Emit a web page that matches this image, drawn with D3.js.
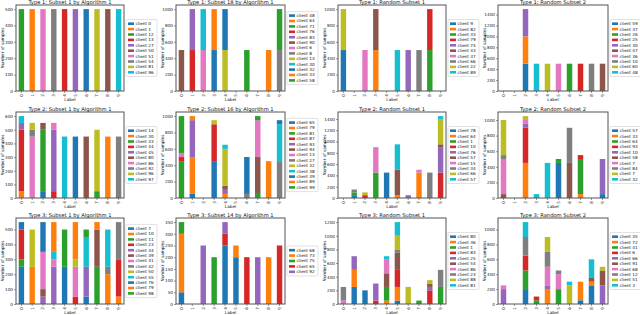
<!DOCTYPE html>
<html>
<head>
<meta charset="utf-8">
<script src="https://cdn.jsdelivr.net/npm/d3@7"></script>
<style>
  body { margin: 0; background: #fff; }
  text { font-family: "DejaVu Sans", sans-serif; }
</style>
</head>
<body>
<svg id="chart" width="640" height="315"></svg>
<script>
const labels = ["0", "1", "2", "3", "4", "5", "6", "7", "8", "9"];
const tab10 = ["#1f77b4", "#ff7f0e", "#2ca02c", "#d62728", "#9467bd", "#8c564b", "#e377c2", "#7f7f7f", "#bcbd22", "#17becf"];

// Type 1: Subset 1 by Algorithm 1
const t1a1Clients = [0, 1, 12, 13, 27, 50, 51, 54, 81, 96];
const t1a1Values = [
  [0, 0, 0, 0, 0, 0, 500, 0, 0, 0],
  [0, 500, 0, 0, 0, 0, 0, 0, 0, 0],
  [500, 0, 0, 0, 0, 0, 0, 0, 0, 0],
  [0, 0, 0, 0, 500, 0, 0, 0, 0, 0],
  [0, 0, 0, 0, 0, 500, 0, 0, 0, 0],
  [0, 0, 0, 0, 0, 0, 0, 0, 500, 0],
  [0, 0, 500, 0, 0, 0, 0, 0, 0, 0],
  [0, 0, 0, 500, 0, 0, 0, 0, 0, 0],
  [0, 0, 0, 0, 0, 0, 0, 500, 0, 0],
  [0, 0, 0, 0, 0, 0, 0, 0, 0, 500]
];

// Type 1: Subset 18 by Algorithm 1
const t1a18Clients = [48, 64, 71, 76, 83, 90, 6, 8, 13, 30, 32, 33, 58];
const t1a18Values = [
  [0, 0, 0, 500, 0, 0, 0, 0, 0, 0],
  [0, 0, 0, 500, 0, 0, 0, 0, 0, 0],
  [0, 0, 0, 0, 0, 0, 500, 0, 0, 0],
  [0, 500, 0, 0, 0, 0, 0, 0, 0, 0],
  [0, 500, 0, 0, 0, 0, 0, 0, 0, 0],
  [500, 0, 0, 0, 0, 0, 0, 0, 0, 0],
  [0, 0, 500, 0, 0, 0, 0, 0, 0, 0],
  [0, 0, 0, 0, 0, 0, 0, 0, 0, 500],
  [0, 0, 0, 0, 500, 0, 0, 0, 0, 0],
  [0, 0, 500, 0, 0, 0, 0, 0, 0, 0],
  [0, 0, 0, 0, 500, 0, 0, 0, 0, 0],
  [0, 0, 0, 0, 0, 0, 0, 0, 500, 0],
  [0, 0, 0, 0, 0, 0, 0, 0, 0, 500]
];

// Type 1: Random Subset 1
const t1r1Clients = [9, 82, 33, 79, 74, 43, 37, 66, 22, 89];
const t1r1Values = [
  [500, 0, 0, 0, 0, 0, 0, 0, 0, 0],
  [0, 0, 0, 500, 0, 0, 0, 0, 0, 0],
  [0, 0, 0, 0, 0, 0, 0, 0, 500, 0],
  [0, 0, 0, 0, 0, 0, 0, 0, 500, 0],
  [0, 0, 0, 0, 0, 0, 500, 0, 0, 0],
  [0, 0, 0, 500, 0, 0, 0, 0, 0, 0],
  [0, 0, 500, 0, 0, 0, 0, 0, 0, 0],
  [0, 0, 0, 0, 0, 0, 0, 500, 0, 0],
  [500, 0, 0, 0, 0, 0, 0, 0, 0, 0],
  [0, 0, 0, 0, 0, 500, 0, 0, 0, 0]
];

// Type 1: Random Subset 2
const t1r2Clients = [59, 37, 26, 25, 30, 47, 36, 10, 60, 48];
const t1r2Values = [
  [0, 0, 500, 0, 0, 0, 0, 0, 0, 0],
  [0, 0, 500, 0, 0, 0, 0, 0, 0, 0],
  [0, 0, 0, 0, 0, 0, 500, 0, 0, 0],
  [0, 0, 0, 0, 0, 0, 0, 500, 0, 0],
  [0, 0, 500, 0, 0, 0, 0, 0, 0, 0],
  [0, 0, 0, 0, 0, 0, 0, 0, 0, 500],
  [0, 0, 0, 0, 0, 500, 0, 0, 0, 0],
  [0, 0, 0, 0, 0, 0, 0, 0, 500, 0],
  [0, 0, 0, 0, 500, 0, 0, 0, 0, 0],
  [0, 0, 0, 500, 0, 0, 0, 0, 0, 0]
];

// Type 2: Subset 1 by Algorithm 1
const t2a1Clients = [14, 30, 33, 44, 45, 80, 86, 92, 96, 97];
const t2a1Values = [
  [0, 0, 50, 0, 0, 450, 0, 0, 0, 0],
  [50, 0, 0, 0, 0, 0, 0, 0, 450, 0],
  [0, 0, 450, 0, 0, 0, 0, 50, 0, 0],
  [450, 0, 0, 50, 0, 0, 0, 0, 0, 0],
  [50, 0, 0, 450, 0, 0, 0, 0, 0, 0],
  [0, 0, 50, 0, 0, 0, 450, 0, 0, 0],
  [0, 450, 0, 50, 0, 0, 0, 0, 0, 0],
  [0, 50, 0, 0, 0, 0, 0, 0, 0, 450],
  [0, 50, 0, 0, 0, 0, 0, 450, 0, 0],
  [50, 0, 0, 0, 450, 0, 0, 0, 0, 0]
];

// Type 2: Subset 16 by Algorithm 1
const t2a16Clients = [65, 79, 81, 87, 93, 94, 13, 27, 32, 38, 39, 89, 99];
const t2a16Values = [
  [0, 50, 0, 450, 0, 0, 0, 0, 0, 0],
  [0, 450, 0, 0, 50, 0, 0, 0, 0, 0],
  [450, 0, 0, 0, 0, 0, 0, 50, 0, 0],
  [50, 0, 0, 450, 0, 0, 0, 0, 0, 0],
  [0, 450, 0, 0, 50, 0, 0, 0, 0, 0],
  [0, 0, 0, 0, 50, 0, 0, 450, 0, 0],
  [50, 0, 0, 0, 0, 0, 0, 450, 0, 0],
  [0, 0, 0, 0, 0, 0, 50, 0, 0, 450],
  [0, 0, 0, 50, 450, 0, 0, 0, 0, 0],
  [0, 0, 0, 0, 50, 0, 0, 0, 0, 450],
  [0, 0, 0, 0, 0, 0, 450, 0, 0, 50],
  [0, 50, 0, 0, 0, 0, 0, 0, 450, 0],
  [450, 0, 0, 0, 0, 0, 0, 50, 0, 0]
];

// Type 2: Random Subset 1
const t2r1Clients = [78, 64, 1, 10, 76, 57, 15, 34, 66, 57];
const t2r1Values = [
  [0, 50, 0, 0, 450, 0, 0, 0, 0, 0],
  [0, 0, 0, 0, 0, 50, 0, 450, 0, 0],
  [0, 50, 0, 450, 0, 0, 0, 0, 0, 0],
  [0, 0, 50, 0, 0, 0, 0, 0, 0, 450],
  [0, 0, 0, 0, 0, 0, 50, 0, 0, 450],
  [0, 0, 0, 0, 0, 450, 0, 0, 0, 50],
  [0, 0, 0, 450, 0, 0, 0, 50, 0, 0],
  [0, 50, 0, 0, 0, 0, 0, 0, 450, 0],
  [0, 0, 50, 0, 0, 0, 0, 0, 0, 450],
  [0, 0, 0, 0, 0, 450, 0, 0, 0, 50]
];

// Type 2: Random Subset 2
const t2r2Clients = [57, 33, 64, 93, 10, 58, 7, 84, 7, 32];
const t2r2Values = [
  [0, 0, 0, 0, 0, 450, 0, 0, 0, 50],
  [0, 0, 450, 0, 0, 0, 0, 50, 0, 0],
  [0, 0, 0, 0, 0, 50, 0, 450, 0, 0],
  [0, 0, 450, 0, 0, 0, 0, 50, 0, 0],
  [0, 0, 50, 0, 0, 0, 0, 0, 0, 450],
  [50, 0, 0, 0, 0, 0, 450, 0, 0, 0],
  [450, 0, 50, 0, 0, 0, 0, 0, 0, 0],
  [50, 0, 0, 0, 0, 0, 450, 0, 0, 0],
  [450, 0, 50, 0, 0, 0, 0, 0, 0, 0],
  [0, 0, 0, 50, 450, 0, 0, 0, 0, 0]
];

// Type 3: Subset 1 by Algorithm 1
const t3a1Clients = [7, 10, 11, 23, 34, 39, 41, 42, 50, 55, 76, 79, 98];
const t3a1Values = [
  [250, 0, 0, 0, 0, 0, 50, 0, 0, 0],
  [0, 250, 0, 0, 0, 0, 0, 0, 200, 50],
  [50, 0, 0, 0, 0, 0, 0, 250, 0, 0],
  [200, 0, 0, 0, 0, 50, 0, 0, 0, 250],
  [0, 0, 50, 250, 0, 0, 200, 0, 0, 0],
  [0, 0, 50, 0, 0, 0, 0, 250, 0, 0],
  [0, 0, 250, 50, 0, 200, 0, 0, 0, 0],
  [0, 0, 0, 0, 0, 0, 0, 0, 50, 250],
  [0, 250, 0, 0, 0, 50, 0, 0, 0, 0],
  [0, 0, 0, 50, 0, 0, 200, 0, 250, 0],
  [50, 0, 200, 0, 250, 0, 0, 0, 0, 0],
  [0, 0, 0, 200, 0, 250, 0, 50, 0, 0],
  [0, 0, 0, 0, 250, 0, 50, 0, 0, 0]
];

// Type 3: Subset 14 by Algorithm 1
const t3a14Clients = [68, 73, 75, 65, 92];
const t3a14Values = [
  [50, 0, 0, 0, 250, 200, 0, 0, 0, 0],
  [250, 0, 0, 0, 0, 50, 0, 0, 200, 0],
  [50, 0, 0, 200, 0, 0, 0, 0, 0, 0],
  [0, 0, 0, 0, 50, 0, 200, 0, 0, 250],
  [0, 0, 250, 0, 50, 0, 0, 200, 0, 0]
];

// Type 3: Random Subset 1
const t3r1Clients = [80, 36, 1, 83, 25, 54, 86, 23, 88, 81];
const t3r1Values = [
  [0, 250, 200, 0, 0, 50, 0, 0, 0, 0],
  [0, 250, 0, 0, 50, 200, 0, 0, 0, 0],
  [0, 0, 0, 0, 200, 0, 0, 50, 0, 250],
  [0, 0, 0, 50, 0, 250, 0, 0, 200, 0],
  [0, 200, 0, 250, 0, 0, 0, 0, 50, 0],
  [0, 0, 0, 0, 200, 250, 0, 0, 50, 0],
  [50, 0, 0, 0, 200, 0, 0, 0, 0, 0],
  [200, 0, 0, 0, 0, 50, 0, 0, 0, 250],
  [0, 0, 0, 0, 0, 200, 250, 0, 50, 0],
  [0, 0, 0, 0, 50, 200, 0, 0, 0, 0]
];

// Type 3: Random Subset 2
const t3r2Clients = [35, 72, 41, 6, 66, 91, 68, 12, 51, 3];
const t3r2Values = [
  [0, 0, 200, 0, 0, 0, 0, 50, 250, 0],
  [0, 0, 0, 0, 200, 0, 0, 250, 50, 0],
  [0, 0, 250, 50, 0, 200, 0, 0, 0, 0],
  [0, 0, 200, 50, 0, 0, 0, 0, 0, 0],
  [200, 0, 0, 0, 50, 0, 0, 0, 0, 250],
  [0, 0, 0, 0, 0, 0, 0, 0, 50, 200],
  [50, 0, 0, 0, 250, 200, 0, 0, 0, 0],
  [0, 0, 250, 0, 200, 50, 0, 0, 0, 0],
  [0, 0, 0, 0, 200, 0, 250, 0, 0, 50],
  [0, 0, 200, 0, 0, 0, 50, 0, 250, 0]
];

const panels = [
  { title: "Type 1: Subset 1 by Algorithm 1", clients: t1a1Clients, values: t1a1Values, step: 100 },
  { title: "Type 1: Subset 18 by Algorithm 1", clients: t1a18Clients, values: t1a18Values, step: 200 },
  { title: "Type 1: Random Subset 1", clients: t1r1Clients, values: t1r1Values, step: 200 },
  { title: "Type 1: Random Subset 2", clients: t1r2Clients, values: t1r2Values, step: 200 },
  { title: "Type 2: Subset 1 by Algorithm 1", clients: t2a1Clients, values: t2a1Values, step: 100 },
  { title: "Type 2: Subset 16 by Algorithm 1", clients: t2a16Clients, values: t2a16Values, step: 200 },
  { title: "Type 2: Random Subset 1", clients: t2r1Clients, values: t2r1Values, step: 200 },
  { title: "Type 2: Random Subset 2", clients: t2r2Clients, values: t2r2Values, step: 200 },
  { title: "Type 3: Subset 1 by Algorithm 1", clients: t3a1Clients, values: t3a1Values, step: 100 },
  { title: "Type 3: Subset 14 by Algorithm 1", clients: t3a14Clients, values: t3a14Values, step: 50 },
  { title: "Type 3: Random Subset 1", clients: t3r1Clients, values: t3r1Values, step: 200 },
  { title: "Type 3: Random Subset 2", clients: t3r2Clients, values: t3r2Values, step: 200 }
];

// grid of axes boxes (pixels)
const colLeft = [16, 176, 338, 498];
const colRight = [124, 285, 446, 608];
const rowTop = [5, 112, 218];
const rowBottom = [91, 198, 304];

const svg = d3.select("#chart");
svg.append("rect").attr("width", 640).attr("height", 315).attr("fill", "#fff");

panels.forEach(function(p, i) {
  const row = Math.floor(i / 4), col = i % 4;
  const left = colLeft[col], right = colRight[col];
  const top = rowTop[row], bottom = rowBottom[row];

  const keys = p.clients.map(function(c, k) { return "k" + k; });
  const data = labels.map(function(l, j) {
    const o = { label: l };
    p.values.forEach(function(v, k) { o["k" + k] = v[j]; });
    return o;
  });
  const series = d3.stack().keys(keys)(data);
  const maxVal = d3.max(series[series.length - 1], function(d) { return d[1]; });

  const x = d3.scaleBand().domain(labels).range([left, right]).paddingInner(0.5).paddingOuter(0.25);
  const y = d3.scaleLinear().domain([0, maxVal * 1.05]).range([bottom, top]);

  const g = svg.append("g");

  // bars
  series.forEach(function(s, k) {
    g.selectAll(null)
      .data(s.filter(function(d) { return d[1] - d[0] > 0; }))
      .enter()
      .append("rect")
      .attr("x", function(d) { return x(d.data.label); })
      .attr("y", function(d) { return y(d[1]); })
      .attr("width", x.bandwidth())
      .attr("height", function(d) { return y(d[0]) - y(d[1]); })
      .attr("fill", tab10[k % 10]);
  });

  // y axis
  const yAxis = g.append("g")
    .attr("transform", "translate(" + left + ",0)")
    .call(d3.axisLeft(y)
      .tickValues(d3.range(0, maxVal * 1.05, p.step))
      .tickFormat(d3.format("d"))
      .tickSize(2).tickPadding(1));
  yAxis.select(".domain").remove();
  yAxis.selectAll("text").attr("font-size", 4.2).attr("font-family", "DejaVu Sans").attr("fill", "#222");
  yAxis.selectAll("line").attr("stroke", "#333").attr("stroke-width", 0.5);

  // x axis
  const xAxis = g.append("g")
    .attr("transform", "translate(0," + bottom + ")")
    .call(d3.axisBottom(x).tickSize(2));
  xAxis.select(".domain").remove();
  xAxis.selectAll("line").attr("stroke", "#333").attr("stroke-width", 0.5);
  xAxis.selectAll("text")
    .attr("font-size", 4.2)
    .attr("font-family", "DejaVu Sans")
    .attr("fill", "#222")
    .attr("transform", "rotate(-90)")
    .attr("text-anchor", "end")
    .attr("x", -3)
    .attr("y", 0)
    .attr("dy", "0.35em");

  // frame
  g.append("rect")
    .attr("x", left).attr("y", top)
    .attr("width", right - left).attr("height", bottom - top)
    .attr("fill", "none").attr("stroke", "#555").attr("stroke-width", 1);

  // title and axis labels
  g.append("text")
    .attr("x", (left + right) / 2).attr("y", top - 1.5)
    .attr("text-anchor", "middle").attr("font-size", 5.2).attr("fill", "#111")
    .text(p.title);
  g.append("text")
    .attr("x", (left + right) / 2).attr("y", bottom + 10)
    .attr("text-anchor", "middle").attr("font-size", 4.2).attr("fill", "#111")
    .text("Label");
  g.append("text")
    .attr("transform", "translate(" + (left - 12) + "," + ((top + bottom) / 2) + ") rotate(-90)")
    .attr("text-anchor", "middle").attr("font-size", 4.2).attr("fill", "#111")
    .text("Number of samples");

  // legend
  const rowH = 5.4, pad = 1.5;
  const legH = p.clients.length * rowH + pad * 2;
  const legX = right + 2, legY = (top + bottom) / 2 - legH / 2;
  const leg = g.append("g").attr("transform", "translate(" + legX + "," + legY + ")");
  leg.append("rect")
    .attr("width", 31).attr("height", legH).attr("rx", 1)
    .attr("fill", "#fff").attr("stroke", "#ccc").attr("stroke-width", 0.6);
  p.clients.forEach(function(c, k) {
    const yy = pad + k * rowH + rowH / 2;
    leg.append("rect")
      .attr("x", 2).attr("y", yy - 1.3).attr("width", 6).attr("height", 2.6)
      .attr("fill", tab10[k % 10]);
    leg.append("text")
      .attr("x", 9.5).attr("y", yy).attr("dy", "0.35em")
      .attr("font-size", 4.2).attr("fill", "#111")
      .text("client " + c);
  });
});
</script>
</body>
</html>
